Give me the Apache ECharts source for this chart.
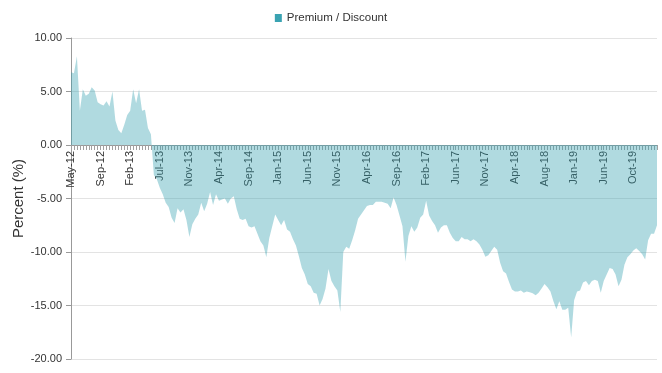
<!DOCTYPE html>
<html>
<head>
<meta charset="utf-8">
<script src="https://cdn.jsdelivr.net/npm/echarts@6/dist/echarts.min.js"></script>
<style>
html,body{margin:0;padding:0;background:#fff;}
#chart{width:662px;height:373px;}
</style>
</head>
<body>
<div id="chart"></div>
<script>
// Tick labels shown every 10th category
var tickLabels = ['May-12','Sep-12','Feb-13','Jul-13','Nov-13','Apr-14','Sep-14','Jan-15','Jun-15','Nov-15',
  'Apr-16','Sep-16','Feb-17','Jun-17','Nov-17','Apr-18','Aug-18','Jan-19','Jun-19','Oct-19'];

// Premium / Discount (%) readings, roughly bi-weekly from May-12
var premiumDiscount = [
  6.8, 6.7, 8.3, 3.2, 5.2, 4.6, 4.8, 5.4, 5.1, 4.0,
  3.8, 3.7, 4.1, 3.6, 5.0, 2.3, 1.4, 1.1, 1.9, 2.8,
  3.2, 5.2, 3.9, 5.2, 3.2, 3.3, 1.6, 1.0, -2.8, -3.2,
  -4.0, -4.6, -5.4, -5.8, -6.8, -7.3, -5.9, -6.3, -6.0, -7.0,
  -8.6, -7.4, -6.9, -6.5, -5.4, -6.2, -5.5, -4.4, -5.6, -4.6,
  -5.2, -5.1, -5.0, -5.5, -5.0, -4.8, -6.0, -6.9, -7.0, -6.9,
  -7.6, -7.7, -7.6, -8.3, -9.0, -9.4, -10.5, -8.7, -7.6, -6.5,
  -7.0, -7.5, -7.0, -7.9, -8.1, -8.8, -9.4, -10.4, -11.5, -12.1,
  -13.0, -13.2, -13.8, -13.9, -15.0, -14.4, -13.4, -11.6, -12.7, -13.2,
  -13.6, -15.6, -10.0, -9.5, -9.7, -8.9, -8.0, -6.9, -6.5, -6.1,
  -5.7, -5.6, -5.6, -5.3, -5.3, -5.3, -5.4, -5.5, -5.9, -4.9,
  -5.6, -6.6, -7.6, -10.9, -8.5, -7.6, -8.1, -7.7, -6.8, -6.5,
  -5.2, -6.6, -7.1, -7.5, -8.2, -7.7, -7.5, -7.5, -8.2, -8.7,
  -9.0, -9.0, -8.6, -8.8, -8.8, -9.0, -8.8, -9.0, -9.3, -9.8,
  -10.45, -10.3, -9.9, -9.5, -9.8, -11.0, -11.8, -12.0, -12.8, -13.5,
  -13.7, -13.7, -13.6, -13.8, -13.7, -13.75, -13.85, -14.05, -13.8, -13.4,
  -13.0, -13.3, -13.7, -14.6, -15.35, -14.6, -15.4, -15.4, -15.2, -18.0,
  -14.5, -13.7, -13.6, -12.85, -12.7, -13.1, -12.7, -12.6, -12.7, -13.8,
  -12.7, -12.1, -11.5, -11.6, -12.1, -13.2, -12.6, -11.2, -10.5, -10.2,
  -9.85, -9.65, -9.9, -10.2, -10.7, -8.9, -8.3, -8.3, -7.5
];

var yMin = -20, yMax = 10, yStep = 5;

// categories: one per reading (bi-weekly observation numbers)
var categories = premiumDiscount.map(function (v, i) { return 'P' + i; });

var gridTop = 38, gridBottom = 14, chartH = 373;
var plotH = chartH - gridTop - gridBottom;
// distance from bottom edge of plot up to the zero line
var zeroOffset = plotH * (0 - yMin) / (yMax - yMin);

var chart = echarts.init(document.getElementById('chart'), null, {renderer: 'canvas'});
chart.setOption({
  animation: false,
  textStyle: {fontFamily: '"Liberation Sans", Arial, sans-serif'},
  legend: {
    top: 7,
    left: 'center',
    icon: 'rect',
    itemWidth: 7,
    itemHeight: 8,
    itemGap: 6,
    textStyle: {fontSize: 11.5, color: '#333'},
    data: ['Premium / Discount']
  },
  grid: {left: 71, right: 5, top: gridTop, bottom: gridBottom, containLabel: false, outerBoundsMode: 'none'},
  xAxis: {
    type: 'category',
    data: categories,
    boundaryGap: false,
    position: 'bottom',
    offset: -zeroOffset,
    axisLine: {onZero: false, lineStyle: {color: '#999', width: 1}},
    axisTick: {show: true, interval: 0, length: 5, lineStyle: {color: '#a0a0a0'}},
    axisLabel: {
      interval: 9,
      rotate: 90,
      margin: 6,
      fontSize: 11,
      color: '#333',
      formatter: function (value, index) {
        return tickLabels[Math.round(index / 10)] || '';
      }
    },
    splitLine: {show: false}
  },
  yAxis: {
    type: 'value',
    min: yMin,
    max: yMax,
    interval: yStep,
    name: 'Percent (%)',
    nameLocation: 'middle',
    nameGap: 45,
    nameMoveOverlap: false,
    nameTextStyle: {fontSize: 15, color: '#333'},
    axisLine: {show: true, lineStyle: {color: '#999'}},
    axisTick: {show: true, length: 5, lineStyle: {color: '#999'}},
    axisLabel: {
      fontSize: 11,
      color: '#333',
      margin: 9,
      formatter: function (v) { return v.toFixed(2); }
    },
    splitLine: {lineStyle: {color: '#e3e3e3'}}
  },
  series: [{
    name: 'Premium / Discount',
    type: 'line',
    data: premiumDiscount,
    showSymbol: false,
    symbol: 'none',
    itemStyle: {color: '#3aa3b2'},
    lineStyle: {width: 0},
    areaStyle: {color: '#3aa3b2', opacity: 0.4},
    z: 1
  }]
});
</script>
</body>
</html>
